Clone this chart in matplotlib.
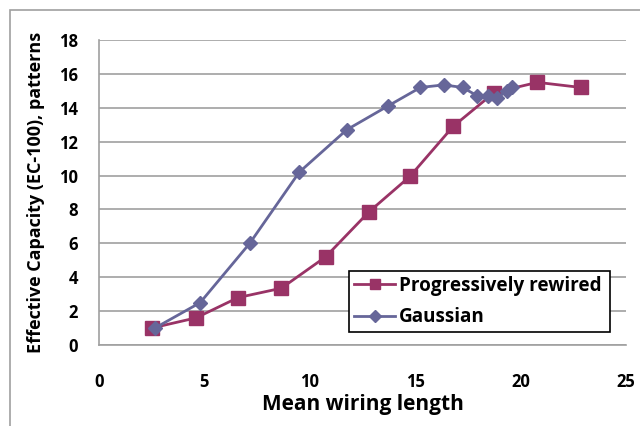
import matplotlib
matplotlib.use("Agg")
import matplotlib.pyplot as plt
from matplotlib.patches import Rectangle

plt.rcParams['font.family'] = ['Open Sans', 'DejaVu Sans']

rewired_x = [2.5, 4.6, 6.6, 8.65, 10.75, 12.8, 14.75, 16.8, 18.75, 20.8, 22.85]
rewired_y = [1.0, 1.6, 2.8, 3.35, 5.2, 7.85, 9.95, 12.9, 14.9, 15.5, 15.2]

gauss_x = [2.65, 4.8, 7.15, 9.5, 11.75, 13.7, 15.25, 16.35, 17.25, 17.95, 18.45, 18.9, 19.35, 19.6]
gauss_y = [1.0, 2.5, 6.0, 10.2, 12.7, 14.1, 15.2, 15.35, 15.2, 14.7, 14.7, 14.6, 15.0, 15.2]

xticks = [0, 5, 10, 15, 20, 25]
yticks = [0, 2, 4, 6, 8, 10, 12, 14, 16, 18]

red = '#993366'
blue = '#666699'

fig = plt.figure(figsize=(6.4, 4.26), dpi=100)
ax = fig.add_axes([99/640, 1-345/426, (626-99)/640, (345-40)/426])

ax.plot(rewired_x, rewired_y, color=red, lw=2, marker='s', ms=9.5,
        markeredgecolor=red, label='Progressively rewired', zorder=3)
ax.plot(gauss_x, gauss_y, color=blue, lw=2, marker='D', ms=7.5,
        markeredgecolor=blue, label='Gaussian', zorder=4)

ax.set_xlim(0, 25)
ax.set_ylim(0, 18)
ax.set_xticks(xticks)
ax.set_yticks(yticks)
ax.tick_params(length=0, labelsize=12)
for t in ax.get_xticklabels() + ax.get_yticklabels():
    t.set_fontweight('bold')
ax.tick_params(axis='x', pad=20)
ax.tick_params(axis='y', pad=15)

ax.yaxis.grid(True, color='#a0a0a0', lw=1.2)
ax.set_axisbelow(True)
for s in ['top', 'right']:
    ax.spines[s].set_visible(False)
ax.spines['left'].set_color('#a0a0a0')
ax.spines['bottom'].set_color('#a0a0a0')
ax.spines['left'].set_linewidth(1.2)
ax.spines['bottom'].set_linewidth(1.2)

ax.set_xlabel('Mean wiring length', fontsize=15, fontweight='bold', labelpad=2)
ax.set_ylabel('Effective Capacity (EC-100), patterns', fontsize=13,
              fontweight='bold', labelpad=10)

leg = ax.legend(loc='lower left', bbox_to_anchor=((349-99)/527, (345-332)/305,
                (610-349)/527, (332-260)/305), mode='expand',
                prop={'weight': 'bold', 'size': 13.6}, frameon=True,
                fancybox=False, edgecolor='black', framealpha=1,
                borderaxespad=0, handlelength=2.2, labelspacing=0.62,
                handletextpad=0.2, borderpad=0.25, markerscale=0.8)
leg.get_frame().set_linewidth(1.2)

fig.patches.append(Rectangle((10/640, -0.1), 1.2, 1 - 10/426 + 0.1,
                             transform=fig.transFigure, fill=False,
                             edgecolor='#a0a0a0', lw=1.2))

fig.savefig('out.png', dpi=100)
